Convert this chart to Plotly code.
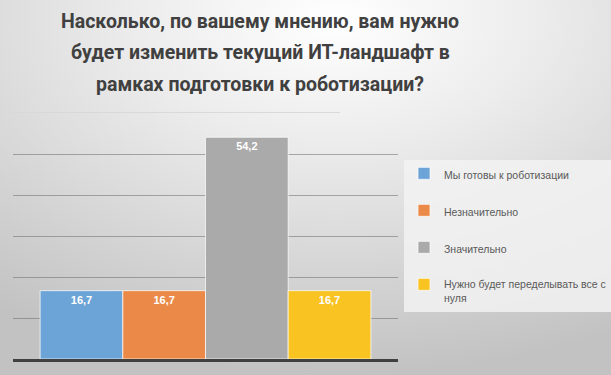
import base64
import plotly.graph_objects as go

categories = ["Мы готовы к роботизации", "Незначительно", "Значительно",
              "Нужно будет переделывать все с<br>нуля"]
values = [16.7, 16.7, 54.2, 16.7]
colors = ["#6CA4D7", "#EB8A48", "#AAAAAA", "#F9C322"]
title_lines = ["Насколько, по вашему мнению, вам нужно",
               "будет изменить текущий ИТ-ландшафт в",
               "рамках подготовки к роботизации?"]

W, H = 611, 375
ml, mr, mt, mb = 13, 213, 134, 16
pw, ph = W - ml - mr, H - mt - mb

fig = go.Figure()
for name, v, c in zip(categories, values, colors):
    fig.add_trace(go.Bar(
        x=[""], y=[v], name=name, legendgroup=name,
        marker=dict(color=c, line=dict(color="rgba(255,255,255,0.7)", width=1)),
        texttemplate="<b>%{y:.1f}</b>", textposition="inside", insidetextanchor="end",
        textfont=dict(color="white", size=11, family="Liberation Sans, Arial"),
        textangle=0,
    ))

svg = f'''<svg xmlns="http://www.w3.org/2000/svg" width="{W}" height="{H}">
<defs><radialGradient id="g" cx="0.55" cy="0.05" r="0.95" gradientUnits="objectBoundingBox">
<stop offset="0" stop-color="#ffffff"/><stop offset="0.35" stop-color="#ececec"/>
<stop offset="1" stop-color="#c2c2c2"/></radialGradient></defs>
<rect width="{W}" height="{H}" fill="url(#g)"/></svg>'''
src = "data:image/svg+xml;base64," + base64.b64encode(svg.encode()).decode()

annotations = []
for i, line in enumerate(title_lines):
    yc = 21 + 32 * i
    annotations.append(dict(text="<b>" + line + "</b>", x=(260 - ml) / pw, xref="paper",
                            y=(H - mb - yc) / ph, yref="paper", xanchor="center",
                            yanchor="middle", showarrow=False, align="center",
                            font=dict(family="Roboto, Liberation Sans, Arial",
                                      size=19.5, color="#404040")))

fig.update_layout(
    width=W, height=H, margin=dict(l=ml, r=mr, t=mt, b=mb, pad=0, autoexpand=False),
    paper_bgcolor="rgba(0,0,0,0)", plot_bgcolor="rgba(0,0,0,0)",
    separators=", ",
    barmode="group", bargap=0.141, bargroupgap=0,
    images=[dict(source=src, xref="paper", yref="paper",
                 x=-ml / pw, y=(ph + mt) / ph, sizex=W / pw, sizey=H / ph,
                 xanchor="left", yanchor="top", sizing="stretch", layer="below")],
    xaxis=dict(showticklabels=False, showgrid=False, zeroline=False,
               showline=True, linecolor="#404040", linewidth=2.5, fixedrange=True),
    yaxis=dict(range=[0, 55], dtick=10, showticklabels=False, zeroline=False,
               showgrid=True, gridcolor="rgba(110,110,110,0.55)", gridwidth=1,
               fixedrange=True),
    showlegend=True,
    legend=dict(x=(404 - ml) / pw, y=(H - mb - 160) / ph, xanchor="left", yanchor="top",
                bgcolor="rgba(242,242,242,0.85)", borderwidth=0,
                font=dict(family="Liberation Sans, Arial", size=10.5, color="#595959"),
                tracegroupgap=18, valign="top", itemwidth=30,
                traceorder="grouped"),
    annotations=annotations,
    shapes=[dict(type="line", xref="paper", yref="paper",
                 x0=(10 - ml) / pw, x1=(340 - ml) / pw,
                 y0=(H - mb - 112.5) / ph, y1=(H - mb - 112.5) / ph,
                 line=dict(color="rgba(215,215,215,0.9)", width=1))],
)
fig.write_html("out.html", config={"displayModeBar": False},
               post_script="document.body.style.margin='0';")
